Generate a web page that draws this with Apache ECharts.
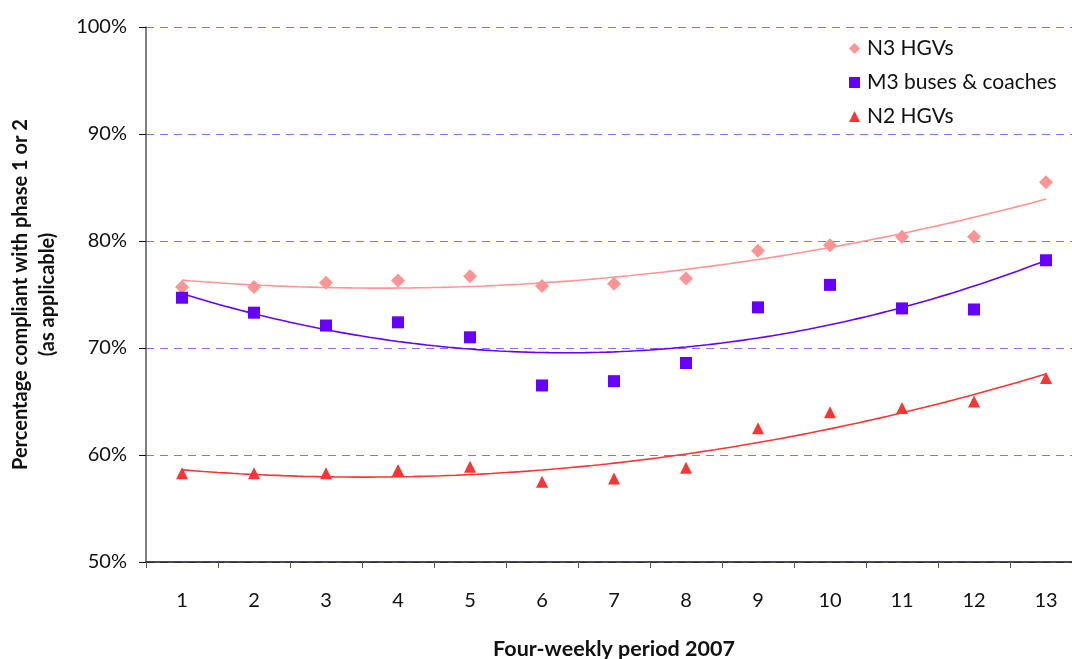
<!DOCTYPE html>
<html>
<head>
<meta charset="utf-8">
<script src="https://cdn.jsdelivr.net/npm/echarts@6/dist/echarts.min.js"></script>
<style>html,body{margin:0;padding:0;background:#fff}#c{width:1072px;height:659px}</style>
</head>
<body>
<div id="c"></div>
<script>
const periods = ['1','2','3','4','5','6','7','8','9','10','11','12','13'];
const n3HGVs = [75.7, 75.7, 76.1, 76.3, 76.7, 75.8, 76.0, 76.5, 79.1, 79.6, 80.4, 80.4, 85.5];
const m3Buses = [74.7, 73.3, 72.1, 72.4, 71.0, 66.5, 66.9, 68.6, 73.8, 75.9, 73.7, 73.6, 78.2];
const n2HGVs = [58.3, 58.3, 58.3, 58.6, 58.9, 57.5, 57.8, 58.8, 62.5, 64.0, 64.4, 65.0, 67.2];
const yTicks = [50, 60, 70, 80, 90, 100];

// least-squares quadratic trendline (like Excel's polynomial order 2)
function quadFit(ys) {
  let S = [0,0,0,0,0], T = [0,0,0];
  ys.forEach((y, i) => {
    const x = i + 1;
    for (let k = 0; k < 5; k++) S[k] += Math.pow(x, k);
    for (let k = 0; k < 3; k++) T[k] += y * Math.pow(x, k);
  });
  const A = [[S[0],S[1],S[2],T[0]],[S[1],S[2],S[3],T[1]],[S[2],S[3],S[4],T[2]]];
  for (let i = 0; i < 3; i++) {
    for (let j = i + 1; j < 3; j++) {
      const f = A[j][i] / A[i][i];
      for (let k = i; k < 4; k++) A[j][k] -= f * A[i][k];
    }
  }
  const c = [0,0,0];
  for (let i = 2; i >= 0; i--) {
    let s = A[i][3];
    for (let k = i + 1; k < 3; k++) s -= A[i][k] * c[k];
    c[i] = s / A[i][i];
  }
  const pts = [];
  for (let x = 1; x <= 13.0001; x += 0.1) pts.push([x, c[0] + c[1]*x + c[2]*x*x]);
  return pts;
}

const FONT = 'Lato';
const colN3 = '#ff9494', colM3 = '#6600ff', colN2 = '#ff3333';
const chart = echarts.init(document.getElementById('c'), null, {renderer: 'canvas'});
chart.setOption({
  animation: false,
  backgroundColor: '#fff',
  textStyle: {fontFamily: FONT, color: '#111'},
  grid: {left: 146, right: -10, top: 27, bottom: 97, containLabel: false, outerBoundsMode: 'none'},
  legend: {
    orient: 'vertical', left: 844, top: 33, itemGap: 13, itemWidth: 11, itemHeight: 11,
    textStyle: {fontFamily: FONT, fontSize: 21, color: '#111', padding: [0,0,0,2]},
    data: ['N3 HGVs', 'M3 buses & coaches', 'N2 HGVs']
  },
  xAxis: [{
    type: 'category', data: periods, boundaryGap: true,
    axisLine: {lineStyle: {color: '#111', width: 1.5}},
    axisTick: {show: true, length: 6, lineStyle: {color: '#555'}},
    axisLabel: {fontFamily: FONT, fontSize: 20, color: '#111', margin: 29},
    name: 'Four-weekly period 2007', nameLocation: 'middle', nameGap: 76,
    nameTextStyle: {fontFamily: FONT, fontSize: 21.5, fontWeight: 'bold', color: '#111'},
    splitLine: {show: false}
  }, {
    type: 'value', min: 0.5, max: 13.5, show: false, splitLine: {show: false}
  }],
  yAxis: {
    type: 'value', min: 50, max: 100, interval: 10,
    axisLine: {show: true, lineStyle: {color: '#555', width: 1.5}},
    axisTick: {show: true, length: 7, lineStyle: {color: '#111'}},
    axisLabel: {fontFamily: FONT, fontSize: 20, color: '#111', margin: 19, formatter: '{value}%'},
    splitLine: {show: true, lineStyle: {color: '#9966ff', type: [8, 6], width: 1}},
    name: 'Percentage compliant with phase 1 or 2\n(as applicable)',
    nameLocation: 'middle', nameGap: 85, nameRotate: 90,
    nameTextStyle: {fontFamily: FONT, fontSize: 20, fontWeight: 'bold', color: '#111', lineHeight: 27, align: 'center'}
  },
  series: [
    {name: 'N3 HGVs trend', type: 'line', xAxisIndex: 1, data: quadFit(n3HGVs), showSymbol: false, symbol: 'none', lineStyle: {color: colN3, width: 1.6}, itemStyle: {color: colN3}, z: 1},
    {name: 'M3 trend', type: 'line', xAxisIndex: 1, data: quadFit(m3Buses), showSymbol: false, symbol: 'none', lineStyle: {color: colM3, width: 1.6}, itemStyle: {color: colM3}, z: 1},
    {name: 'N2 trend', type: 'line', xAxisIndex: 1, data: quadFit(n2HGVs), showSymbol: false, symbol: 'none', lineStyle: {color: colN2, width: 1.6}, itemStyle: {color: colN2}, z: 1},
    {name: 'N3 HGVs', type: 'scatter', xAxisIndex: 0, data: n3HGVs, symbol: 'diamond', symbolSize: 14, itemStyle: {color: colN3, opacity: 1}, z: 3},
    {name: 'M3 buses & coaches', type: 'scatter', xAxisIndex: 0, data: m3Buses, symbol: 'rect', symbolSize: 12, itemStyle: {color: colM3, opacity: 1}, z: 3},
    {name: 'N2 HGVs', type: 'scatter', xAxisIndex: 0, data: n2HGVs, symbol: 'triangle', symbolSize: 12, itemStyle: {color: colN2, opacity: 1}, z: 3}
  ]
});
</script>
</body>
</html>
